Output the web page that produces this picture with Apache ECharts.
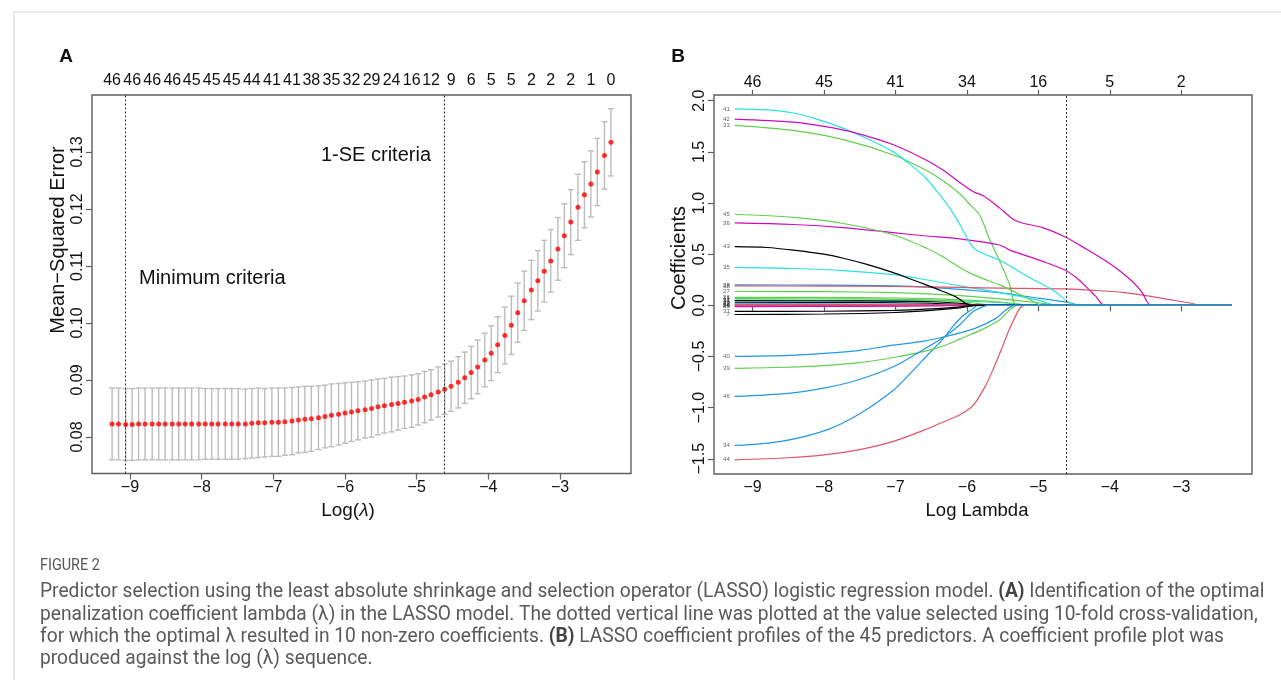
<!DOCTYPE html>
<html><head><meta charset="utf-8">
<script src="https://cdn.jsdelivr.net/npm/echarts@6/dist/echarts.min.js"></script>
<style>html,body{margin:0;padding:0;background:#fff}#c{width:1281px;height:680px}</style>
</head><body><div id="c"></div>
<script>
// ---------- Panel A data ----------
const logLambda = [-9.25,-9.16,-9.06,-8.97,-8.88,-8.79,-8.69,-8.60,-8.51,-8.41,
-8.32,-8.23,-8.14,-8.04,-7.95,-7.86,-7.77,-7.67,-7.58,-7.49,
-7.39,-7.30,-7.21,-7.12,-7.02,-6.93,-6.84,-6.74,-6.65,-6.56,
-6.47,-6.37,-6.28,-6.19,-6.09,-6.00,-5.91,-5.82,-5.72,-5.63,
-5.54,-5.45,-5.35,-5.26,-5.17,-5.07,-4.98,-4.89,-4.80,-4.70,
-4.61,-4.52,-4.42,-4.33,-4.24,-4.15,-4.05,-3.96,-3.87,-3.77,
-3.68,-3.59,-3.50,-3.40,-3.31,-3.22,-3.13,-3.03,-2.94,-2.85,
-2.75,-2.66,-2.57,-2.48,-2.38,-2.29];
const mse = [0.0823,0.0823,0.0822,0.0822,0.0823,0.0823,0.0823,0.0823,0.0823,0.0823,
0.0823,0.0823,0.0823,0.0823,0.0823,0.0823,0.0823,0.0823,0.0823,0.0823,
0.0823,0.0824,0.0825,0.0825,0.0826,0.0826,0.0827,0.0828,0.0830,0.0831,
0.0832,0.0834,0.0836,0.0838,0.0840,0.0842,0.0844,0.0846,0.0848,0.0850,
0.0853,0.0855,0.0857,0.0859,0.0861,0.0863,0.0866,0.0870,0.0874,0.0879,
0.0884,0.0889,0.0896,0.0904,0.0913,0.0923,0.0935,0.0947,0.0962,0.0978,
0.0996,0.1018,0.1039,0.1058,0.1074,0.1091,0.1109,0.1130,0.1153,0.1177,
0.1203,0.1225,0.1244,0.1265,0.1294,0.1317];
const se = [0.0063,0.0063,0.0063,0.0063,0.0063,0.0063,0.0063,0.0063,0.0063,0.0063,
0.0063,0.0063,0.0063,0.0063,0.0062,0.0062,0.0062,0.0062,0.0062,0.0062,
0.0061,0.0061,0.0061,0.0060,0.0060,0.0060,0.0059,0.0059,0.0058,0.0058,
0.0057,0.0056,0.0055,0.0055,0.0054,0.0053,0.0052,0.0051,0.0050,0.0050,
0.0049,0.0048,0.0048,0.0047,0.0046,0.0046,0.0045,0.0045,0.0044,0.0044,
0.0044,0.0044,0.0045,0.0045,0.0046,0.0047,0.0047,0.0048,0.0049,0.0050,
0.0051,0.0052,0.0052,0.0052,0.0053,0.0054,0.0055,0.0055,0.0056,0.0057,
0.0058,0.0058,0.0058,0.0059,0.0059,0.0059];
const topCountsA = [46,46,46,46,45,45,45,44,41,41,38,35,32,29,24,16,12,9,6,5,5,2,2,2,1,0];
const mseTicks = [0.08,0.09,0.10,0.11,0.12,0.13];
const lambdaMin = -9.06;
const lambda1se = -4.61;

// ---------- Panel B data ----------
const xTicks = [-9,-8,-7,-6,-5,-4,-3];
const topCountsB = [46,45,41,34,16,5,2];
const coefTicks = [-1.5,-1.0,-0.5,0.0,0.5,1.0,1.5,2.0];
const p7  = [[-9.25,-0.09],[-8.0,-0.085],[-7.0,-0.07],[-6.5,-0.05],[-6.1,-0.025],[-5.85,0],[-2.29,0]];
const p11 = [[-9.25,0.05],[-7.0,0.048],[-6.0,0.04],[-5.5,0.025],[-5.0,0],[-2.29,0]];
const p15 = [[-9.25,0.065],[-7.5,0.062],[-6.5,0.05],[-6.0,0.03],[-5.6,0],[-2.29,0]];
const p19 = [[-9.25,0.03],[-7.5,0.028],[-6.5,0.02],[-6.0,0.005],[-5.9,0],[-2.29,0]];
const p21 = [[-9.25,0.078],[-7.5,0.075],[-6.5,0.065],[-6.0,0.05],[-5.5,0.03],[-5.1,0],[-2.29,0]];
const p22 = [[-9.25,0.015],[-7.5,0.013],[-6.5,0.008],[-6.0,0],[-2.29,0]];
const p24 = [[-9.25,0.003],[-7.5,0.002],[-6.5,0],[-2.29,0]];
const p26 = [[-9.25,-0.005],[-7.5,-0.004],[-6.5,-0.002],[-6.2,0],[-2.29,0]];
const p27 = [[-9.25,0.135],[-8.0,0.133],[-7.0,0.125],[-6.5,0.11],[-6.0,0.09],[-5.5,0.06],[-5.0,0.025],[-4.7,0],[-2.29,0]];
const p28 = [[-9.25,0.20],[-8.0,0.197],[-7.0,0.19],[-6.5,0.175],[-6.0,0.15],[-5.5,0.12],[-5.0,0.07],[-4.6,0.03],[-4.4,0],[-2.29,0]];
const p30 = [[-9.25,-0.012],[-7.5,-0.01],[-6.5,-0.005],[-6.0,0],[-2.29,0]];
const p31 = [[-9.25,0.045],[-7.5,0.043],[-6.5,0.035],[-6.0,0.015],[-5.85,0],[-2.29,0]];
const p32 = [[-9.25,0.008],[-7.0,0.007],[-6.0,0.003],[-5.8,0],[-2.29,0]];
const p33 = [[-9.25,1.76],[-8.43,1.71],[-7.73,1.62],[-7.03,1.47],[-6.57,1.32],[-6.3,1.20],[-6.10,1.09],[-5.95,0.98],[-5.82,0.88],[-5.68,0.64],[-5.54,0.43],[-5.40,0.20],[-5.29,0],[-2.29,0]];
const p34 = [[-9.25,-1.37],[-8.6,-1.33],[-7.97,-1.22],[-7.50,-1.06],[-7.03,-0.83],[-6.8,-0.67],[-6.57,-0.50],[-6.35,-0.34],[-6.19,-0.20],[-6.05,-0.10],[-5.91,-0.03],[-5.85,0],[-2.29,0]];
const p35 = [[-9.25,0.37],[-8.43,0.36],[-7.73,0.34],[-7.03,0.30],[-6.57,0.25],[-6.10,0.19],[-5.5,0.12],[-5.0,0.05],[-4.75,0],[-2.29,0]];
const p36 = [[-9.25,0.805],[-8.43,0.79],[-7.73,0.76],[-7.03,0.71],[-6.6,0.68],[-6.10,0.65],[-5.54,0.59],[-5.40,0.54],[-4.94,0.43],[-4.63,0.345],[-4.45,0.26],[-4.33,0.18],[-4.2,0.09],[-4.07,0],[-2.29,0]];
const p37 = [[-9.25,-0.06],[-8.0,-0.058],[-7.0,-0.05],[-6.5,-0.035],[-6.1,-0.015],[-5.9,0],[-2.29,0]];
const p38 = [[-9.25,0.19],[-8.0,0.188],[-7.0,0.184],[-6.10,0.175],[-5.5,0.168],[-4.63,0.16],[-4.2,0.145],[-3.8,0.125],[-3.53,0.10],[-3.2,0.06],[-2.9,0.025],[-2.69,0],[-2.29,0]];
const p39 = [[-9.25,-0.616],[-8.5,-0.605],[-8.01,-0.59],[-7.5,-0.56],[-7.03,-0.51],[-6.57,-0.445],[-6.3,-0.39],[-6.10,-0.33],[-5.8,-0.24],[-5.54,-0.14],[-5.29,0],[-2.29,0]];
const p40 = [[-9.25,-0.50],[-8.5,-0.49],[-8.0,-0.47],[-7.5,-0.44],[-7.03,-0.39],[-6.6,-0.35],[-6.33,-0.31],[-6.1,-0.27],[-5.87,-0.22],[-5.6,-0.13],[-5.33,0],[-2.29,0]];
const p41 = [[-9.25,1.92],[-8.8,1.91],[-8.43,1.88],[-8.1,1.82],[-7.73,1.73],[-7.4,1.63],[-7.03,1.50],[-6.8,1.38],[-6.57,1.24],[-6.4,1.10],[-6.24,0.95],[-6.1,0.79],[-5.95,0.60],[-5.85,0.53],[-5.54,0.44],[-5.17,0.29],[-4.80,0.15],[-4.46,0],[-2.29,0]];
const p42 = [[-9.25,1.82],[-8.43,1.79],[-8.0,1.75],[-7.64,1.70],[-7.03,1.57],[-6.6,1.43],[-6.33,1.32],[-6.1,1.20],[-5.91,1.11],[-5.77,1.07],[-5.54,0.95],[-5.35,0.84],[-5.2,0.80],[-4.94,0.76],[-4.63,0.67],[-4.33,0.55],[-4.05,0.43],[-3.85,0.33],[-3.68,0.23],[-3.55,0.13],[-3.42,0],[-2.29,0]];
const p43 = [[-9.25,0.573],[-8.8,0.565],[-8.43,0.54],[-8.0,0.50],[-7.73,0.46],[-7.4,0.40],[-7.03,0.32],[-6.8,0.26],[-6.57,0.20],[-6.35,0.14],[-6.15,0.08],[-5.94,0],[-2.29,0]];
const p44 = [[-9.25,-1.51],[-8.5,-1.49],[-7.97,-1.46],[-7.5,-1.41],[-7.03,-1.33],[-6.6,-1.22],[-6.33,-1.14],[-6.10,-1.07],[-5.91,-0.975],[-5.75,-0.80],[-5.63,-0.62],[-5.50,-0.40],[-5.40,-0.225],[-5.26,-0.03],[-5.19,0],[-2.29,0]];
const p45 = [[-9.25,0.89],[-8.43,0.86],[-7.73,0.80],[-7.03,0.69],[-6.57,0.56],[-6.3,0.46],[-6.10,0.37],[-5.91,0.30],[-5.7,0.24],[-5.54,0.20],[-5.3,0.12],[-5.1,0.05],[-4.95,0],[-2.29,0]];
const p46 = [[-9.25,-0.89],[-8.5,-0.86],[-8.0,-0.81],[-7.53,-0.73],[-7.03,-0.60],[-6.70,-0.47],[-6.32,-0.31],[-6.1,-0.19],[-5.93,-0.07],[-5.8,-0.02],[-5.7,0],[-2.29,0]];
const coefPaths = [[7,p7],[11,p11],[15,p15],[19,p19],[21,p21],[22,p22],[24,p24],[26,p26],[27,p27],[28,p28],
  [30,p30],[31,p31],[32,p32],[33,p33],[34,p34],[35,p35],[36,p36],[37,p37],[38,p38],[39,p39],
  [40,p40],[41,p41],[42,p42],[43,p43],[44,p44],[45,p45],[46,p46]];

// ---------- chart ----------
const FONT = 'Liberation Sans, Arial, Helvetica, sans-serif';
const palette = ['#000000','#DF536B','#61D04F','#2297E6','#28E2E5','#CD0BBC'];
const colorOf = id => palette[(id - 1) % 6];
const minus = (v, d) => (v < 0 ? '\u2212' : '') + Math.abs(v).toFixed(d);
const topXA = logLambda.filter((_, i) => i % 3 === 0);
const topMapA = new Map(topXA.map((x, k) => [x.toFixed(2), String(topCountsA[k])]));
const topMapB = new Map(xTicks.map((x, k) => [String(x), String(topCountsB[k])]));
const boxColor = '#5f5f5f';

const lblBase = {fontFamily: FONT, fontSize: 16, color: '#111'};

const option = {
  animation: false,
  backgroundColor: '#fff',
  grid: [
    {left: 92, top: 95, width: 539, height: 378.5, show: true, borderColor: boxColor, borderWidth: 1.4, backgroundColor: 'rgba(0,0,0,0)'},
    {left: 714, top: 95, width: 538, height: 379, show: true, borderColor: boxColor, borderWidth: 1.4, backgroundColor: 'rgba(0,0,0,0)'}
  ],
  xAxis: [
    {gridIndex: 0, type: 'value', min: -9.53, max: -2.01, position: 'bottom',
     axisLine: {show: false}, splitLine: {show: false},
     axisTick: {customValues: xTicks, length: 6, lineStyle: {color: boxColor, width: 1.2}},
     axisLabel: Object.assign({customValues: xTicks, margin: 6, formatter: v => minus(v, 0)}, lblBase)},
    {gridIndex: 0, type: 'value', min: -9.53, max: -2.01, position: 'top',
     axisLine: {show: false}, splitLine: {show: false}, axisTick: {show: false},
     axisLabel: Object.assign({customValues: topXA, margin: 6, formatter: v => topMapA.get(v.toFixed(2)) || ''}, lblBase)},
    {gridIndex: 1, type: 'value', min: -9.54, max: -2.01, position: 'bottom',
     axisLine: {show: false}, splitLine: {show: false},
     axisTick: {customValues: xTicks, length: 6, lineStyle: {color: boxColor, width: 1.2}},
     axisLabel: Object.assign({customValues: xTicks, margin: 6, formatter: v => minus(v, 0)}, lblBase)},
    {gridIndex: 1, type: 'value', min: -9.54, max: -2.01, position: 'top',
     axisLine: {show: false}, splitLine: {show: false},
     axisTick: {customValues: xTicks, length: 5, lineStyle: {color: boxColor, width: 1.2}},
     axisLabel: Object.assign({customValues: xTicks, margin: 4, formatter: v => topMapB.get(String(v)) || ''}, lblBase)}
  ],
  yAxis: [
    {gridIndex: 0, type: 'value', min: 0.0736, max: 0.14,
     axisLine: {show: false}, splitLine: {show: false},
     axisTick: {customValues: mseTicks, length: 6, lineStyle: {color: boxColor, width: 1.2}},
     axisLabel: Object.assign({customValues: mseTicks, rotate: 90, margin: 6, formatter: v => v.toFixed(2)}, lblBase)},
    {gridIndex: 1, type: 'value', min: -1.649, max: 2.056,
     axisLine: {show: false}, splitLine: {show: false},
     axisTick: {customValues: coefTicks, length: 6, lineStyle: {color: boxColor, width: 1.2}},
     axisLabel: Object.assign({customValues: coefTicks, rotate: 90, margin: 6, formatter: v => minus(v, 1)}, lblBase)}
  ],
  series: []
};

// error bars
option.series.push({
  type: 'custom', xAxisIndex: 0, yAxisIndex: 0, z: 2,
  data: logLambda.map((x, i) => [x, mse[i] - se[i], mse[i] + se[i]]),
  renderItem: (params, api) => {
    const x = api.value(0);
    const lo = api.coord([x, api.value(1)]);
    const hi = api.coord([x, api.value(2)]);
    const w = 3;
    const st = {stroke: '#bcbcbc', lineWidth: 1.4, fill: null};
    return {type: 'group', children: [
      {type: 'line', shape: {x1: lo[0], y1: lo[1], x2: hi[0], y2: hi[1]}, style: st},
      {type: 'line', shape: {x1: hi[0] - w, y1: hi[1], x2: hi[0] + w, y2: hi[1]}, style: st},
      {type: 'line', shape: {x1: lo[0] - w, y1: lo[1], x2: lo[0] + w, y2: lo[1]}, style: st}
    ]};
  }
});
// MSE points + dotted lines
option.series.push({
  type: 'scatter', xAxisIndex: 0, yAxisIndex: 0, z: 4,
  data: logLambda.map((x, i) => [x, mse[i]]),
  symbolSize: 5, itemStyle: {color: '#ff0000'},
  markLine: {silent: true, symbol: 'none', label: {show: false},
    lineStyle: {type: [2, 2], color: '#333', width: 1},
    data: [{xAxis: lambdaMin}, {xAxis: lambda1se}]}
});
// coefficient paths
coefPaths.forEach(([id, pts]) => {
  option.series.push({
    type: 'line', xAxisIndex: 2, yAxisIndex: 1, z: 3,
    data: pts, showSymbol: false, symbol: 'none', smooth: 0.3,
    lineStyle: {color: colorOf(id), width: 1.2}, silent: true
  });
});
// labels at path starts
option.series.push({
  type: 'scatter', xAxisIndex: 2, yAxisIndex: 1, z: 5,
  data: coefPaths.map(([id, pts]) => [pts[0][0], pts[0][1], String(id)]),
  symbolSize: 0, itemStyle: {color: 'rgba(0,0,0,0)'},
  label: {show: true, position: 'left', distance: 5, formatter: p => p.value[2],
    fontSize: 6, color: '#333', fontFamily: FONT},
  labelLayout: {hideOverlap: false},
  markLine: {silent: true, symbol: 'none', label: {show: false},
    lineStyle: {type: [2, 2], color: '#333', width: 1},
    data: [{xAxis: lambda1se}]}
});

function T(text, x, y, styleExtra, extra) {
  const el = {type: 'text', x: x, y: y,
    style: Object.assign({text: text, fontFamily: FONT, fontSize: 19, fill: '#111',
      align: 'left', verticalAlign: 'middle', textAlign: 'left', textVerticalAlign: 'middle'}, styleExtra || {})};
  return Object.assign(el, extra || {});
}
const CEN = {align: 'center', textAlign: 'center'};

const capFont = 'Roboto, Lato, sans-serif';
const capStyle = {fontFamily: capFont, fontSize: 20, fill: '#5a5a5a',
  rich: {b: {fontFamily: capFont, fontSize: 20, fontWeight: 'bold', fill: '#444'}}};
const capScale = {scaleX: 0.96};

option.graphic = [
  {type: 'line', shape: {x1: 14, y1: 12, x2: 1281, y2: 12}, style: {stroke: '#d2d2d2', lineWidth: 1}},
  {type: 'line', shape: {x1: 14, y1: 12, x2: 14, y2: 680}, style: {stroke: '#d2d2d2', lineWidth: 1}},
  T('A', 66, 57, Object.assign({fontWeight: 'bold', fontSize: 19}, CEN)),
  T('B', 678, 57, Object.assign({fontWeight: 'bold', fontSize: 19}, CEN)),
  T('Mean\u2212Squared Error', 58, 240, Object.assign({fontSize: 20}, CEN), {rotation: Math.PI / 2}),
  T('Coefficients', 679, 258, Object.assign({fontSize: 20}, CEN), {rotation: Math.PI / 2}),
  T('Log({i|\u03bb})', 348, 511, Object.assign({fontSize: 19, rich: {i: {fontStyle: 'italic', fontSize: 19, fontFamily: FONT, fill: '#111'}}}, CEN)),
  T('Log Lambda', 977, 511, Object.assign({fontSize: 18.5}, CEN)),
  T('Minimum criteria', 139, 278, {fontSize: 20}),
  T('1-SE criteria', 321, 155, {fontSize: 20}),
  T('FIGURE 2', 40, 566, {fontFamily: capFont, fontSize: 16, fill: '#555'}, {scaleX: 0.9}),
  T('Predictor selection using the least absolute shrinkage and selection operator (LASSO) logistic regression model. {b|(A)} Identification of the optimal', 40, 592, capStyle, capScale),
  T('penalization coefficient lambda (\u03bb) in the LASSO model. The dotted vertical line was plotted at the value selected using 10-fold cross-validation,', 40, 614.5, capStyle, capScale),
  T('for which the optimal \u03bb resulted in 10 non-zero coefficients. {b|(B)} LASSO coefficient profiles of the 45 predictors. A coefficient profile plot was', 40, 637, capStyle, capScale),
  T('produced against the log (\u03bb) sequence.', 40, 659, capStyle, capScale)
];

const chart = echarts.init(document.getElementById('c'), null, {renderer: 'canvas'});
chart.setOption(option);
</script>
</body></html>
